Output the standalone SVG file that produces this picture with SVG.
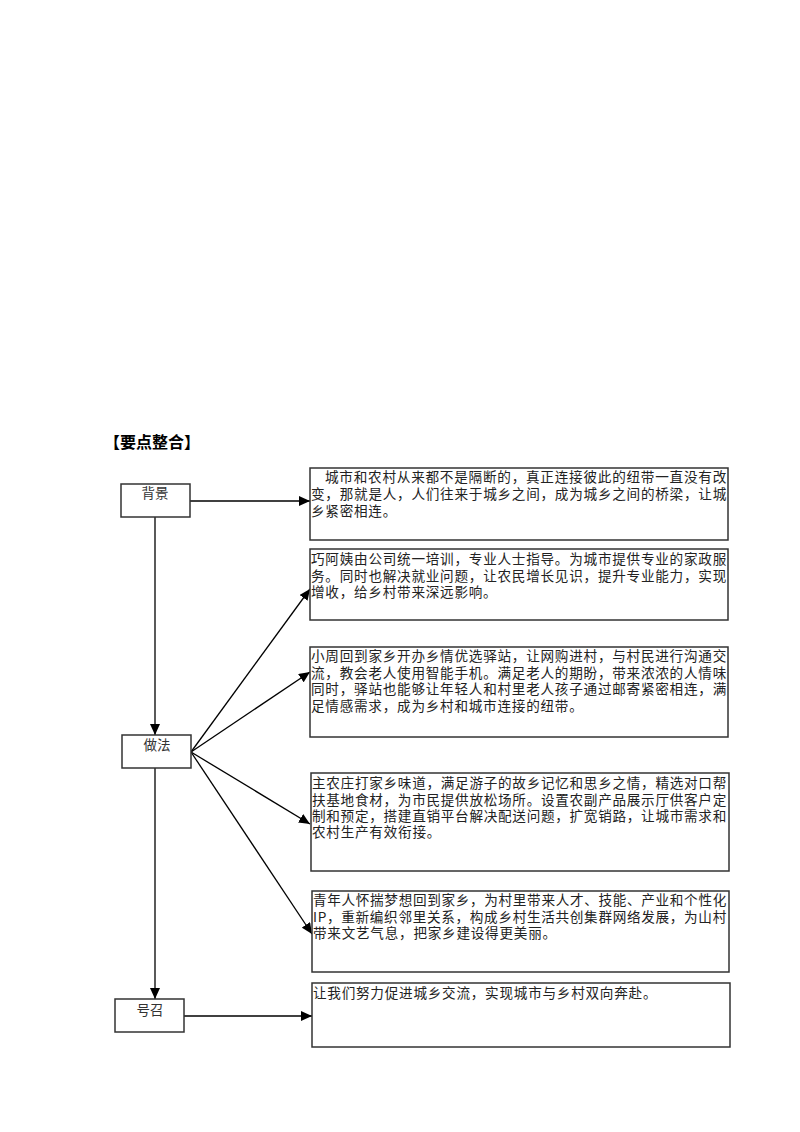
<svg xmlns="http://www.w3.org/2000/svg" width="800" height="1132" viewBox="0 0 800 1132">
<defs>
<marker id="ah" markerUnits="userSpaceOnUse" markerWidth="12" markerHeight="10" refX="11" refY="5" orient="auto">
<path d="M0,0 L11,5 L0,10 Z" fill="#000"/>
</marker>
<style>
.box{fill:#fff;stroke:#333;stroke-width:1.5}
.t{font-family:"Noto Sans CJK SC","Noto Sans",sans-serif;font-size:13.6px;letter-spacing:0.75px;fill:#222}
.lbl{font-family:"Noto Sans CJK SC","Noto Sans",sans-serif;font-size:13.5px;fill:#333;text-anchor:middle}
.c{fill:none;stroke:#000;stroke-width:1.3;marker-end:url(#ah)}
.title{font-family:"Noto Sans CJK SC","Noto Sans",sans-serif;font-size:16px;font-weight:bold;fill:#000}
</style>
</defs>
<rect width="800" height="1132" fill="#fff"/>
<text class="title" x="104" y="448">【要点整合】</text>

<g id="connectors">
<line class="c" x1="190" y1="501" x2="310" y2="501"/>
<line class="c" x1="155" y1="517" x2="155" y2="735"/>
<line class="c" x1="155" y1="768" x2="155" y2="999"/>
<line class="c" x1="191" y1="752" x2="310" y2="589"/>
<line class="c" x1="191" y1="752" x2="310" y2="672"/>
<line class="c" x1="191" y1="752" x2="310" y2="824"/>
<line class="c" x1="191" y1="752" x2="312" y2="934"/>
<line class="c" x1="184" y1="1016" x2="312" y2="1016"/>
</g>

<g id="n-beijing">
<rect class="box" x="121" y="484" width="69" height="33"/>
<text class="lbl" x="155" y="498">背景</text>
</g>
<g id="n-zuofa">
<rect class="box" x="122" y="735" width="69" height="33"/>
<text class="lbl" x="157" y="750">做法</text>
</g>
<g id="n-haozhao">
<rect class="box" x="115" y="999" width="69" height="33"/>
<text class="lbl" x="150" y="1015">号召</text>
</g>

<g id="n-bg-text">
<rect class="box" x="310" y="468" width="418" height="72"/>
<text class="t" x="325" y="482" textLength="402" lengthAdjust="spacing">城市和农村从来都不是隔断的，真正连接彼此的纽带一直没有改</text>
<text class="t" x="311" y="499" textLength="416" lengthAdjust="spacing">变，那就是人，人们往来于城乡之间，成为城乡之间的桥梁，让城</text>
<text class="t" x="311" y="516">乡紧密相连。</text>
</g>

<g id="n-a1">
<rect class="box" x="310" y="549" width="418" height="71"/>
<text class="t" x="311" y="564" textLength="416" lengthAdjust="spacing">巧阿姨由公司统一培训，专业人士指导。为城市提供专业的家政服</text>
<text class="t" x="311" y="581" textLength="416" lengthAdjust="spacing">务。同时也解决就业问题，让农民增长见识，提升专业能力，实现</text>
<text class="t" x="311" y="597">增收，给乡村带来深远影响。</text>
</g>

<g id="n-a2">
<rect class="box" x="310" y="647" width="418" height="90"/>
<text class="t" x="311" y="661" textLength="416" lengthAdjust="spacing">小周回到家乡开办乡情优选驿站，让网购进村，与村民进行沟通交</text>
<text class="t" x="311" y="677.5" textLength="416" lengthAdjust="spacing">流，教会老人使用智能手机。满足老人的期盼，带来浓浓的人情味</text>
<text class="t" x="311" y="694" textLength="416" lengthAdjust="spacing">同时，驿站也能够让年轻人和村里老人孩子通过邮寄紧密相连，满</text>
<text class="t" x="311" y="710.5">足情感需求，成为乡村和城市连接的纽带。</text>
</g>

<g id="n-a3">
<rect class="box" x="311" y="773" width="418" height="98"/>
<text class="t" x="312" y="788" textLength="415" lengthAdjust="spacing">主农庄打家乡味道，满足游子的故乡记忆和思乡之情，精选对口帮</text>
<text class="t" x="312" y="804.5" textLength="415" lengthAdjust="spacing">扶基地食材，为市民提供放松场所。设置农副产品展示厅供客户定</text>
<text class="t" x="312" y="821" textLength="415" lengthAdjust="spacing">制和预定，搭建直销平台解决配送问题，扩宽销路，让城市需求和</text>
<text class="t" x="312" y="837">农村生产有效衔接。</text>
</g>

<g id="n-a4">
<rect class="box" x="312" y="891" width="417" height="81"/>
<text class="t" x="313" y="905" textLength="414" lengthAdjust="spacing">青年人怀揣梦想回到家乡，为村里带来人才、技能、产业和个性化</text>
<text class="t" x="313" y="922" textLength="414" lengthAdjust="spacing">IP，重新编织邻里关系，构成乡村生活共创集群网络发展，为山村</text>
<text class="t" x="313" y="938">带来文艺气息，把家乡建设得更美丽。</text>
</g>

<g id="n-call-text">
<rect class="box" x="312" y="983" width="418" height="64"/>
<text class="t" x="313" y="998">让我们努力促进城乡交流，实现城市与乡村双向奔赴。</text>
</g>
</svg>
